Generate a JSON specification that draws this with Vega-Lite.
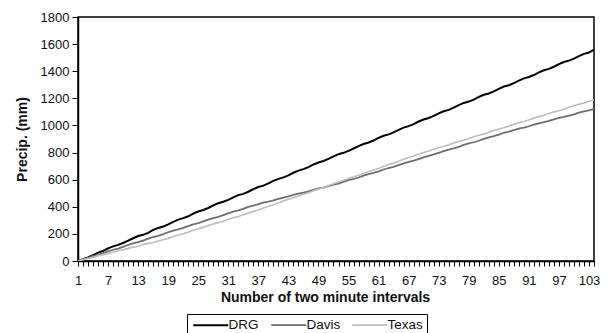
{
  "$schema": "https://vega.github.io/schema/vega-lite/v6.json",
  "width": 516,
  "height": 244,
  "autosize": {"type": "none"},
  "padding": {"left": 78, "top": 17, "right": 13, "bottom": 72},
  "background": "white",
  "config": {"view": {"stroke": "black", "strokeWidth": 1.5}, "font": "Liberation Sans"},
  "data": {"values": [
    {"i":1,"DRG":2,"Davis":1,"Texas":0},{"i":2,"DRG":14,"Davis":11,"Texas":10},{"i":3,"DRG":27,"Davis":24,"Texas":19},{"i":4,"DRG":44,"Davis":36,"Texas":27},{"i":5,"DRG":62,"Davis":46,"Texas":38},
    {"i":6,"DRG":74,"Davis":58,"Texas":47},{"i":7,"DRG":93,"Davis":71,"Texas":54},{"i":8,"DRG":108,"Davis":83,"Texas":65},{"i":9,"DRG":119,"Davis":92,"Texas":75},{"i":10,"DRG":133,"Davis":104,"Texas":82},
    {"i":11,"DRG":150,"Davis":118,"Texas":93},{"i":12,"DRG":168,"Davis":130,"Texas":102},{"i":13,"DRG":184,"Davis":139,"Texas":109},{"i":14,"DRG":193,"Davis":151,"Texas":121},{"i":15,"DRG":208,"Davis":165,"Texas":130},
    {"i":16,"DRG":229,"Davis":177,"Texas":137},{"i":17,"DRG":244,"Davis":186,"Texas":148},{"i":18,"DRG":254,"Davis":198,"Texas":157},{"i":19,"DRG":270,"Davis":212,"Texas":167},{"i":20,"DRG":289,"Davis":224,"Texas":180},
    {"i":21,"DRG":305,"Davis":233,"Texas":192},{"i":22,"DRG":316,"Davis":245,"Texas":201},{"i":23,"DRG":330,"Davis":258,"Texas":213},{"i":24,"DRG":349,"Davis":270,"Texas":227},{"i":25,"DRG":365,"Davis":280,"Texas":238},
    {"i":26,"DRG":376,"Davis":292,"Texas":248},{"i":27,"DRG":391,"Davis":305,"Texas":261},{"i":28,"DRG":410,"Davis":317,"Texas":273},{"i":29,"DRG":426,"Davis":326,"Texas":283},{"i":30,"DRG":437,"Davis":338,"Texas":294},
    {"i":31,"DRG":451,"Davis":352,"Texas":308},{"i":32,"DRG":470,"Davis":364,"Texas":319},{"i":33,"DRG":486,"Davis":373,"Texas":329},{"i":34,"DRG":495,"Davis":385,"Texas":341},{"i":35,"DRG":511,"Davis":399,"Texas":354},
    {"i":36,"DRG":530,"Davis":409,"Texas":366},{"i":37,"DRG":546,"Davis":419,"Texas":377},{"i":38,"DRG":556,"Davis":430,"Texas":391},{"i":39,"DRG":572,"Davis":438,"Texas":404},{"i":40,"DRG":591,"Davis":447,"Texas":415},
    {"i":41,"DRG":606,"Davis":459,"Texas":428},{"i":42,"DRG":617,"Davis":468,"Texas":442},{"i":43,"DRG":632,"Davis":476,"Texas":455},{"i":44,"DRG":651,"Davis":487,"Texas":466},{"i":45,"DRG":667,"Davis":497,"Texas":480},
    {"i":46,"DRG":678,"Davis":504,"Texas":493},{"i":47,"DRG":693,"Davis":514,"Texas":504},{"i":48,"DRG":712,"Davis":525,"Texas":518},{"i":49,"DRG":727,"Davis":535,"Texas":531},{"i":50,"DRG":738,"Davis":542,"Texas":542},
    {"i":51,"DRG":753,"Davis":552,"Texas":555},{"i":52,"DRG":772,"Davis":563,"Texas":569},{"i":53,"DRG":788,"Davis":571,"Texas":582},{"i":54,"DRG":798,"Davis":584,"Texas":593},{"i":55,"DRG":812,"Davis":596,"Texas":608},
    {"i":56,"DRG":830,"Davis":605,"Texas":621},{"i":57,"DRG":848,"Davis":616,"Texas":632},{"i":58,"DRG":863,"Davis":630,"Texas":645},{"i":59,"DRG":874,"Davis":641,"Texas":659},{"i":60,"DRG":889,"Davis":650,"Texas":672},
    {"i":61,"DRG":908,"Davis":661,"Texas":683},{"i":62,"DRG":924,"Davis":675,"Texas":698},{"i":63,"DRG":934,"Davis":686,"Texas":711},{"i":64,"DRG":949,"Davis":695,"Texas":722},{"i":65,"DRG":968,"Davis":707,"Texas":735},
    {"i":66,"DRG":984,"Davis":720,"Texas":750},{"i":67,"DRG":995,"Davis":731,"Texas":763},{"i":68,"DRG":1010,"Davis":741,"Texas":774},{"i":69,"DRG":1029,"Davis":752,"Texas":788},{"i":70,"DRG":1044,"Davis":765,"Texas":801},
    {"i":71,"DRG":1055,"Davis":776,"Texas":811},{"i":72,"DRG":1070,"Davis":786,"Texas":824},{"i":73,"DRG":1089,"Davis":797,"Texas":836},{"i":74,"DRG":1105,"Davis":810,"Texas":845},{"i":75,"DRG":1115,"Davis":822,"Texas":857},
    {"i":76,"DRG":1131,"Davis":831,"Texas":870},{"i":77,"DRG":1150,"Davis":842,"Texas":882},{"i":78,"DRG":1166,"Davis":856,"Texas":891},{"i":79,"DRG":1176,"Davis":867,"Texas":903},{"i":80,"DRG":1191,"Davis":876,"Texas":916},
    {"i":81,"DRG":1210,"Davis":887,"Texas":928},{"i":82,"DRG":1226,"Davis":901,"Texas":937},{"i":83,"DRG":1236,"Davis":912,"Texas":949},{"i":84,"DRG":1251,"Davis":921,"Texas":962},{"i":85,"DRG":1270,"Davis":933,"Texas":974},
    {"i":86,"DRG":1287,"Davis":946,"Texas":983},{"i":87,"DRG":1297,"Davis":955,"Texas":995},{"i":88,"DRG":1312,"Davis":965,"Texas":1008},{"i":89,"DRG":1331,"Davis":977,"Texas":1020},{"i":90,"DRG":1347,"Davis":984,"Texas":1029},
    {"i":91,"DRG":1357,"Davis":994,"Texas":1041},{"i":92,"DRG":1372,"Davis":1006,"Texas":1054},{"i":93,"DRG":1391,"Davis":1016,"Texas":1065},{"i":94,"DRG":1407,"Davis":1024,"Texas":1075},{"i":95,"DRG":1417,"Davis":1033,"Texas":1088},
    {"i":96,"DRG":1433,"Davis":1045,"Texas":1100},{"i":97,"DRG":1452,"Davis":1055,"Texas":1109},{"i":98,"DRG":1468,"Davis":1063,"Texas":1120},{"i":99,"DRG":1478,"Davis":1073,"Texas":1134},{"i":100,"DRG":1493,"Davis":1082,"Texas":1145},
    {"i":101,"DRG":1512,"Davis":1094,"Texas":1157},{"i":102,"DRG":1528,"Davis":1104,"Texas":1166},{"i":103,"DRG":1538,"Davis":1112,"Texas":1179},{"i":104,"DRG":1560,"Davis":1122,"Texas":1188}
  ]},
  "transform": [{"fold": ["DRG", "Davis", "Texas"], "as": ["series", "precip"]}],
  "mark": {"type": "line", "clip": true},
  "encoding": {
    "x": {
      "field": "i", "type": "quantitative",
      "scale": {"domain": [1, 104], "nice": false, "zero": false},
      "axis": {
        "title": "Number of two minute intervals",
        "values": [1,2,3,4,5,6,7,8,9,10,11,12,13,14,15,16,17,18,19,20,21,22,23,24,25,26,27,28,29,30,31,32,33,34,35,36,37,38,39,40,41,42,43,44,45,46,47,48,49,50,51,52,53,54,55,56,57,58,59,60,61,62,63,64,65,66,67,68,69,70,71,72,73,74,75,76,77,78,79,80,81,82,83,84,85,86,87,88,89,90,91,92,93,94,95,96,97,98,99,100,101,102,103,104],
        "labelExpr": "(datum.value - 1) % 6 == 0 ? datum.label : ''",
        "labelOverlap": false, "labelFlush": false,
        "grid": false, "tickSize": 5, "labelPadding": 8,
        "labelFontSize": 13, "labelColor": "#111",
        "domainColor": "black", "tickColor": "black", "domainWidth": 1.5,
        "titleFontSize": 14, "titleFontWeight": "bold", "titleColor": "#111",
        "titlePadding": 3, "titleX": 247
      }
    },
    "y": {
      "field": "precip", "type": "quantitative",
      "scale": {"domain": [0, 1800], "nice": false},
      "axis": {
        "title": "Precip. (mm)", "format": "d",
        "values": [0,200,400,600,800,1000,1200,1400,1600,1800],
        "grid": false, "tickSize": 6, "labelPadding": 3,
        "labelFontSize": 13, "labelColor": "#111",
        "domainColor": "black", "tickColor": "black", "domainWidth": 1.5,
        "titleFontSize": 14, "titleFontWeight": "bold", "titleColor": "#111",
        "titlePadding": 11
      }
    },
    "color": {
      "field": "series", "type": "nominal",
      "scale": {"domain": ["DRG", "Davis", "Texas"], "range": ["#000000", "#6e6e6e", "#bdbdbd"]},
      "legend": {
        "title": null, "orient": "none", "legendX": 109, "legendY": 297,
        "direction": "horizontal", "strokeColor": "black", "fillColor": "white",
        "padding": 4, "symbolType": "M-8.75,0H8.75", "symbolSize": 16, "symbolStrokeWidth": 2,
        "symbolOffset": 13,
        "labelFontSize": 13.5, "labelColor": "#111", "labelOffset": 11, "columnPadding": 8
      }
    },
    "strokeWidth": {
      "field": "series", "type": "nominal",
      "scale": {"domain": ["DRG", "Davis", "Texas"], "range": [2, 1.6, 1.6]},
      "legend": null
    }
  }
}
